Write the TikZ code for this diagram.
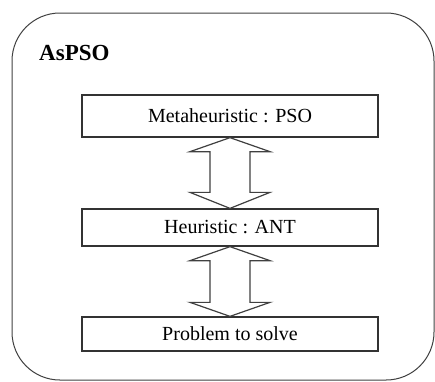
\documentclass[tikz,border=0pt]{standalone}
\usepackage{fontspec}
\setmainfont{Liberation Serif}
\usetikzlibrary{calc}
\begin{document}
\begin{tikzpicture}[x=1pt,y=-1pt,
  layerbox/.style={draw=black!80, line width=1.3pt, fill=white, minimum width=296pt, inner sep=0pt, font=\fontsize{20}{23}\selectfont},
  dblarrow/.style={draw=black!75, line width=1.2pt, fill=white, line join=miter}]
\useasboundingbox (0,0) rectangle (435,381);
\draw[black!75, line width=1pt, rounded corners=48pt] (12,13) rectangle (434,380);
\node[anchor=base west, font=\bfseries\fontsize{23}{27}\selectfont, inner sep=0pt] (title) at (39,60) {AsPSO};
\node[layerbox, minimum height=42pt] (meta) at (230,116) {Metaheuristic : PSO};
\node[layerbox, minimum height=37pt] (heur) at (230,227.5) {Heuristic : ANT};
\node[layerbox, minimum height=34pt] (prob) at (230,334) {Problem to solve};
% double arrow between meta and heur
\draw[dblarrow] (meta.south)
  -- ($(meta.south)+(-40,14)$) -- ($(meta.south)+(-20,14)$)
  -- ($(heur.north)+(-20,-16)$) -- ($(heur.north)+(-40,-16)$)
  -- (heur.north)
  -- ($(heur.north)+(40,-16)$) -- ($(heur.north)+(20,-16)$)
  -- ($(meta.south)+(20,14)$) -- ($(meta.south)+(40,14)$) -- cycle;
% double arrow between heur and prob
\draw[dblarrow] (heur.south)
  -- ($(heur.south)+(-40,14)$) -- ($(heur.south)+(-20,14)$)
  -- ($(prob.north)+(-20,-14)$) -- ($(prob.north)+(-40,-14)$)
  -- (prob.north)
  -- ($(prob.north)+(40,-14)$) -- ($(prob.north)+(20,-14)$)
  -- ($(heur.south)+(20,14)$) -- ($(heur.south)+(40,14)$) -- cycle;
\end{tikzpicture}
\end{document}
